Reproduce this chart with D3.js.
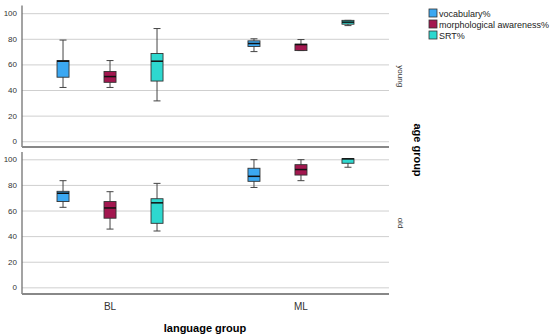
<!DOCTYPE html>
<html>
<head>
<meta charset="utf-8">
<script src="https://cdnjs.cloudflare.com/ajax/libs/d3/7.8.5/d3.min.js"></script>
<style>
  body { margin: 0; background: #fff; }
  svg text { font-family: "Liberation Sans", Arial, sans-serif; }
</style>
</head>
<body>
<div id="chart"></div>
<script>
// categories
var languageGroups = ["BL", "ML"];
var ageGroups = ["young", "old"];
var measures = ["vocabulary%", "morphological awareness%", "SRT%"];
var yTicks = [0, 20, 40, 60, 80, 100];

// box stats per age group: [min, q1, median, q3, max], in order language x measure
var youngBL = [[42, 50, 62.5, 63, 79], [42, 46, 50.5, 54.5, 63], [31.5, 47, 62.5, 68.5, 88]];
var youngML = [[70, 74, 76.3, 78.4, 80], [70.8, 70.8, 75.5, 75.8, 79.4], [90.3, 91.4, 93, 94.4, 94.4]];
var oldBL = [[62.5, 67, 73.5, 75, 83.3], [45.5, 54, 62, 67, 74.7], [44, 50, 66, 69.2, 81.2]];
var oldML = [[78, 82.8, 86.7, 93, 99.7], [83.3, 87.7, 92, 95.8, 99.7], [93.8, 96.9, 100.3, 100.5, 100.5]];

var colors = ["#3ba8f2", "#a3174f", "#2ed8cf"];

var width = 550, height = 336;
var left = 22, right = 389;

var svg = d3.select("#chart").append("svg")
    .attr("width", width)
    .attr("height", height);

var x = d3.scalePoint().domain(languageGroups).range([left, right]).padding(0.461);
var xSub = d3.scalePoint().domain(measures).range([-47, 47]);
var boxW = 12;

var panels = [
  {age: "young", top: 5.5, bottom: 147, domain: [-4.5, 106], data: {BL: youngBL, ML: youngML}},
  {age: "old", top: 152, bottom: 294, domain: [-5.2, 105.7], data: {BL: oldBL, ML: oldML}}
];

panels.forEach(function(p){
  var y = d3.scaleLinear().domain(p.domain).range([p.bottom, p.top]);
  var g = svg.append("g");

  // grid + tick labels
  var ax = g.append("g")
      .attr("transform", "translate(" + left + ",0)")
      .call(d3.axisLeft(y).tickValues(yTicks).tickSizeInner(-(right - left)).tickSizeOuter(0).tickPadding(5));
  ax.select(".domain").remove();
  ax.selectAll(".tick line").attr("stroke", "#cfcfcf").attr("stroke-width", 1);
  ax.selectAll(".tick text").attr("fill", "#333").style("font-size", "8px");

  // frame: left and bottom
  g.append("line").attr("x1", left).attr("x2", left).attr("y1", p.top).attr("y2", p.bottom)
      .attr("stroke", "#666").attr("stroke-width", 1.2);
  g.append("line").attr("x1", left).attr("x2", right).attr("y1", p.bottom).attr("y2", p.bottom)
      .attr("stroke", "#888").attr("stroke-width", 2);

  // boxes
  languageGroups.forEach(function(lg){
    p.data[lg].forEach(function(s, i){
      var cx = x(lg) + xSub(measures[i]);
      var bg = g.append("g");
      bg.append("line").attr("x1", cx).attr("x2", cx).attr("y1", y(s[4])).attr("y2", y(s[0]))
          .attr("stroke", "#444").attr("stroke-width", 1);
      [s[0], s[4]].forEach(function(v){
        bg.append("line").attr("x1", cx - 3.5).attr("x2", cx + 3.5).attr("y1", y(v)).attr("y2", y(v))
            .attr("stroke", "#444").attr("stroke-width", 1);
      });
      bg.append("rect")
          .attr("x", cx - boxW / 2).attr("width", boxW)
          .attr("y", y(s[3])).attr("height", Math.max(1, y(s[1]) - y(s[3])))
          .attr("fill", colors[i]).attr("stroke", "#333").attr("stroke-width", 0.9);
      bg.append("line").attr("x1", cx - boxW / 2).attr("x2", cx + boxW / 2)
          .attr("y1", y(Math.min(s[2], s[3]))).attr("y2", y(Math.min(s[2], s[3])))
          .attr("stroke", "#111").attr("stroke-width", 1.5);
    });
  });

  // panel label on the right
  var ly = (p.top + p.bottom) / 2;
  svg.append("text")
      .attr("transform", "translate(398," + ly + ") rotate(90)")
      .attr("text-anchor", "middle")
      .attr("fill", "#333")
      .style("font-size", "8px")
      .text(p.age);
});

// x labels
languageGroups.forEach(function(lg){
  svg.append("text")
      .attr("x", x(lg)).attr("y", 310)
      .attr("text-anchor", "middle")
      .attr("fill", "#333")
      .style("font-size", "10px")
      .text(lg);
});

svg.append("text")
    .attr("x", 205).attr("y", 332)
    .attr("text-anchor", "middle")
    .style("font-size", "11px").style("font-weight", "bold")
    .text("language group");

svg.append("text")
    .attr("transform", "translate(414,150) rotate(90)")
    .attr("text-anchor", "middle")
    .style("font-size", "11px").style("font-weight", "bold")
    .text("age group");

// legend
var legend = svg.append("g").attr("transform", "translate(429,9)");
measures.forEach(function(m, i){
  var row = legend.append("g").attr("transform", "translate(0," + (i * 11) + ")");
  row.append("rect").attr("width", 8).attr("height", 8)
      .attr("fill", colors[i]).attr("stroke", "#333").attr("stroke-width", 0.8);
  row.append("text").attr("x", 10).attr("y", 7.5)
      .attr("fill", "#222")
      .style("font-size", "9px")
      .text(m);
});
</script>
</body>
</html>
